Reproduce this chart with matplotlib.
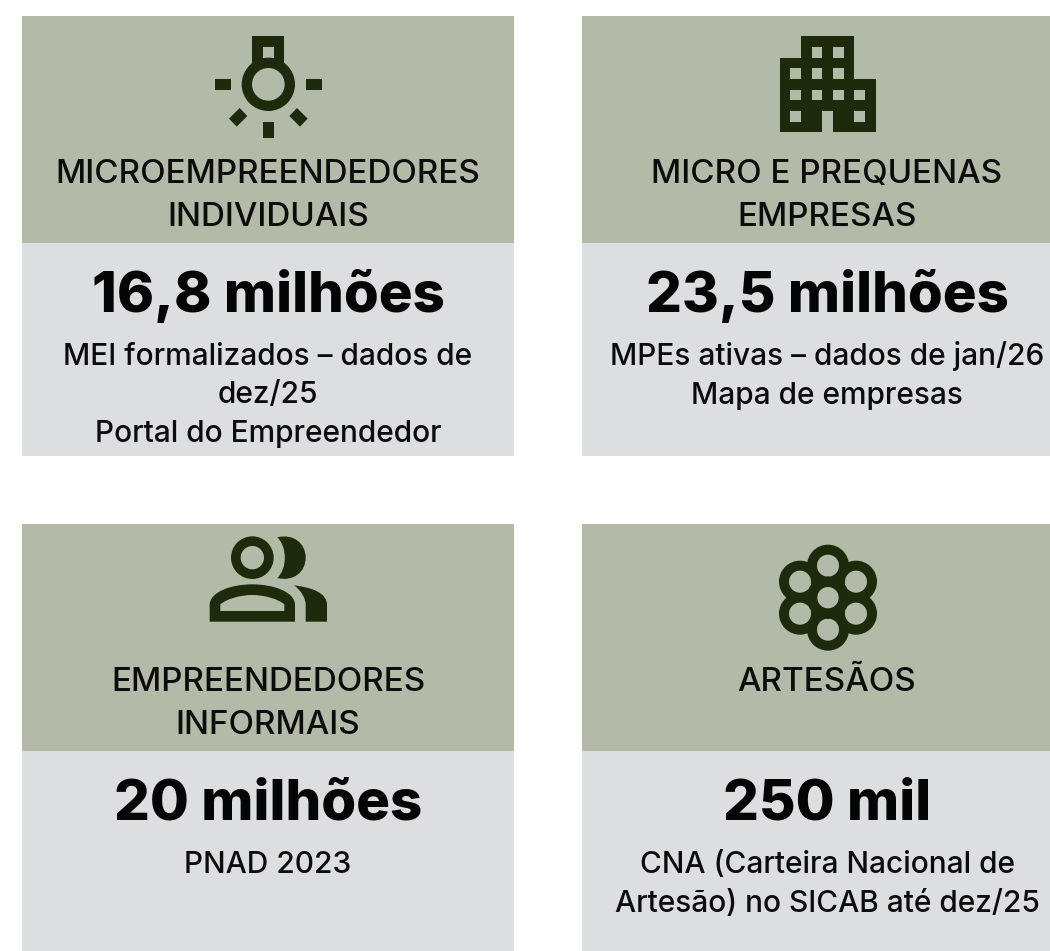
import numpy as np
from matplotlib import pyplot as plt
from matplotlib.patches import Rectangle, Circle, Polygon, PathPatch
from matplotlib.path import Path

titles = [["MICROEMPREENDEDORES", "INDIVIDUAIS"], ["MICRO E PREQUENAS", "EMPRESAS"],
          ["EMPREENDEDORES", "INFORMAIS"], ["ARTESÃOS"]]
values = ["16,8 milhões", "23,5 milhões", "20 milhões", "250 mil"]
notes = [["MEI formalizados – dados de", "dez/25", "Portal do Empreendedor"],
         ["MPEs ativas – dados de jan/26", "Mapa de empresas"],
         ["PNAD 2023"],
         ["CNA (Carteira Nacional de", "Artesão) no SICAB até dez/25"]]

GREEN = "#b3baa7"
GREY = "#dcdee0"
DARK = "#1f2a0d"
FONT = "Inter"

fig = plt.figure(figsize=(10.5, 9.51), dpi=100)
ax = fig.add_axes([0, 0, 1, 1])
ax.set_xlim(0, 1050)
ax.set_ylim(951, 0)
ax.axis("off")

# panel geometry: x0, x1, top, split, bottom
panels = [(22, 514, 16, 243, 456), (582, 1072, 16, 243, 456),
          (22, 514, 524, 751, 951), (582, 1072, 524, 751, 951)]
title_y = [[183, 226], [183, 226], [691, 734], [691]]

for i, (x0, x1, top, split, bottom) in enumerate(panels):
    ax.add_patch(Rectangle((x0, top), x1 - x0, split - top, color=GREEN, lw=0))
    ax.add_patch(Rectangle((x0, split), x1 - x0, bottom - split, color=GREY, lw=0))
    xc = (x0 + x1) / 2
    for line, y in zip(titles[i], title_y[i]):
        ax.text(xc, y, line, ha="center", va="baseline", fontsize=23.9, family=FONT,
                weight="medium", color="#0c0c0c")
    ax.text(xc, top + 296, values[i], ha="center", va="baseline", fontsize=40.6,
            family=FONT, weight=800, color="#050505")
    for k, line in enumerate(notes[i]):
        ax.text(xc, top + 349 + k * 38.5, line, ha="center", va="baseline", fontsize=21.5,
                family=FONT, weight="medium", color="#0c0c0c")


# icons: coordinates are in the 3x zoom space, moved by an offset
def box(ox, oy, x, y, w, h, col=DARK):
    ax.add_patch(Rectangle((ox + x / 3, oy + y / 3), w / 3, h / 3, color=col, lw=0))


def disc(ox, oy, x, y, r, col=DARK):
    ax.add_patch(Circle((ox + x / 3, oy + y / 3), r / 3, color=col, lw=0))


def poly(ox, oy, pts, col=DARK):
    p = np.array(pts, dtype=float) / 3 + [ox, oy]
    ax.add_patch(Polygon(p, closed=True, color=col, lw=0))


# bulb
ox, oy = 180, 20
box(ox, oy, 217, 48, 96, 90)
box(ox, oy, 249, 81, 32, 32, GREEN)
disc(ox, oy, 265, 193, 80)
disc(ox, oy, 265, 193, 49, GREEN)
box(ox, oy, 105, 177, 48, 32)
box(ox, oy, 377, 177, 48, 32)
box(ox, oy, 249, 305, 32, 48)
poly(ox, oy, [(179, 264), (202, 288), (170, 320), (147, 296)])
poly(ox, oy, [(351, 264), (328, 288), (360, 320), (383, 296)])

# building
ox, oy = 750, 20
poly(ox, oy, [(153, 48), (313, 48), (313, 177), (377, 177), (377, 337), (249, 337),
              (249, 273), (217, 273), (217, 337), (89, 337), (89, 113), (153, 113)])
windows = [(185, 81), (249, 81), (121, 145), (185, 145), (249, 145), (121, 209),
           (185, 209), (249, 209), (313, 209), (121, 273), (313, 273)]
for wx, wy in windows:
    box(ox, oy, wx, wy, 32, 32, GREEN)

# people
ox, oy = 190, 525


def curve(verts, codes, col=DARK):
    p = np.array(verts, dtype=float) / 3 + [ox, oy]
    ax.add_patch(PathPatch(Path(p, codes), facecolor=col, edgecolor="none", lw=0))


M, L, C, Z = Path.MOVETO, Path.LINETO, Path.CURVE4, Path.CLOSEPOLY
disc(ox, oy, 187, 98, 64)
disc(ox, oy, 187, 98, 35, GREEN)
curve([(262, 37), (310, 25), (347, 55), (347, 98), (347, 141), (310, 171), (262, 159),
       (292, 130), (292, 66), (262, 37), (262, 37)],
      [M] + [C] * 9 + [Z])
curve([(59, 290), (59, 240), (59, 200), (125, 178), (187, 178), (249, 178), (315, 200),
       (315, 240), (315, 290), (59, 290)],
      [M, L, C, C, C, C, C, C, L, Z])
curve([(91, 258), (91, 238), (110, 222), (150, 210), (187, 210), (224, 210), (264, 222),
       (283, 238), (283, 258), (91, 258)],
      [M, L, C, C, C, C, C, C, L, Z], GREEN)
curve([(312, 181), (370, 188), (411, 205), (411, 240), (411, 290), (347, 290), (347, 240),
       (347, 220), (335, 198), (312, 181), (312, 181)],
      [M, C, C, C, L, L, L, C, C, C, Z])

# flower
ox, oy = 760, 545
cx, cy = 204, 158
petals = [(204, 62), (288, 110), (288, 206), (204, 254), (120, 206), (120, 110)]
for px, py in petals:
    disc(ox, oy, px, py, 63)
for px, py in petals:
    dx, dy = cx - px, cy - py
    d = np.hypot(dx, dy)
    ux, uy = dx / d, dy / d
    poly(ox, oy, [(px - uy * 32, py + ux * 32), (px + uy * 32, py - ux * 32),
                  (px + ux * 45, py + uy * 45)], GREEN)
    disc(ox, oy, px, py, 33, GREEN)
disc(ox, oy, cx, cy, 64)
disc(ox, oy, cx, cy, 32, GREEN)

fig.savefig("out.png", dpi=100, facecolor="white")
